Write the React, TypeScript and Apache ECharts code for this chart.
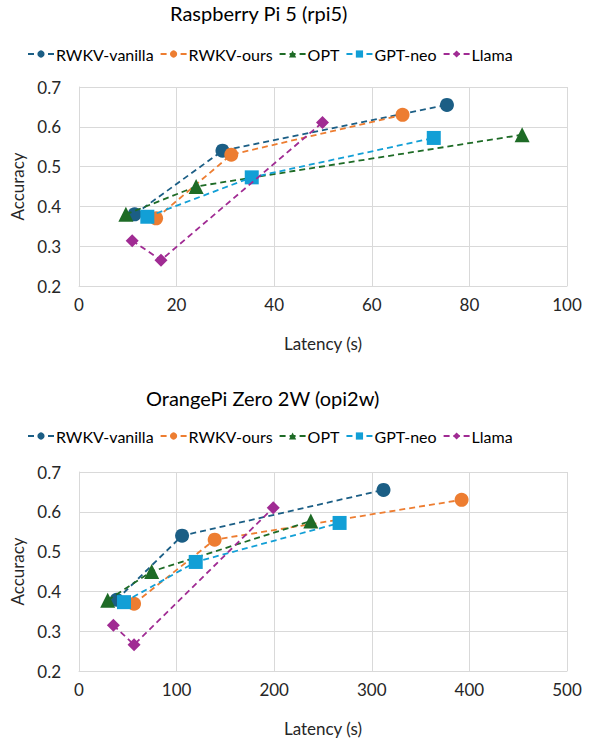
import React, { useEffect, useRef } from "react";
import * as echarts from "echarts";

const seriesNames = ["RWKV-vanilla", "RWKV-ours", "OPT", "GPT-neo", "Llama"];
const seriesColors = ["#1B5E85", "#ED7D31", "#1E6B26", "#129FD6", "#A02B93"];
const seriesSymbols = ["circle", "circle", "triangle", "rect", "diamond"];
const symbolSizes = [14, 14, 15, 14, 13];

// Raspberry Pi 5 (rpi5): [latency s, accuracy]
const rpiVanilla = [[11.4, 0.38], [29.4, 0.54], [75.4, 0.655]];
const rpiOurs = [[15.8, 0.37], [31.2, 0.53], [66.3, 0.63]];
const rpiOpt = [[9.6, 0.38], [24.0, 0.45], [90.8, 0.58]];
const rpiGptNeo = [[14.0, 0.374], [35.4, 0.473], [72.7, 0.572]];
const rpiLlama = [[10.9, 0.314], [16.8, 0.265], [49.9, 0.611]];

// OrangePi Zero 2W (opi2w)
const opiVanilla = [[38.6, 0.379], [105.6, 0.54], [312, 0.655]];
const opiOurs = [[56.4, 0.369], [139, 0.53], [392, 0.63]];
const opiOpt = [[29.4, 0.378], [74.5, 0.45], [237.5, 0.577]];
const opiGptNeo = [[46.1, 0.373], [119.6, 0.474], [267, 0.572]];
const opiLlama = [[35.2, 0.315], [56.4, 0.266], [199, 0.61]];

const rpiData = [rpiVanilla, rpiOurs, rpiOpt, rpiGptNeo, rpiLlama];
const opiData = [opiVanilla, opiOurs, opiOpt, opiGptNeo, opiLlama];

const titles = ["Raspberry Pi 5 (rpi5)", "OrangePi Zero 2W (opi2w)"];
const xAxisName = "Latency (s)";
const yAxisName = "Accuracy";
const xMaxes = [100, 500];
const xIntervals = [20, 100];

const FONT = "Lato";

export default function App() {
  const ref = useRef<HTMLDivElement>(null);
  useEffect(() => {
    document.body.style.margin = "0";
    const chart = echarts.init(ref.current!, null, { renderer: "svg" });
    const gridTops = [87, 472];
    const mkSeries = (data: number[][][], gi: number) =>
      data.map((d, i) => ({
        name: seriesNames[i],
        type: "line",
        xAxisIndex: gi,
        yAxisIndex: gi,
        data: d,
        symbol: seriesSymbols[i],
        symbolSize: symbolSizes[i],
        showAllSymbol: true,
        z: 2 + i,
        itemStyle: { color: seriesColors[i], opacity: 1 },
        lineStyle: { color: seriesColors[i], width: 1.8, type: [6, 4] },
      }));
    const axisText = { color: "#262626", fontFamily: FONT, fontSize: 17 };
    chart.setOption({
      animation: false,
      textStyle: { fontFamily: FONT },
      title: [0, 1].map((i) => ({
        text: titles[i],
        left: i === 0 ? 170 : 146,
        top: i === 0 ? 3 : 388,
        padding: 0,
        textStyle: { fontFamily: FONT, fontSize: 20, fontWeight: "normal", color: "#000" },
      })),
      legend: [0, 1].map((i) => ({
        data: seriesNames,
        top: i === 0 ? 41 : 423,
        left: 22,
        itemWidth: 26,
        itemHeight: 9,
        itemGap: 6,
        textStyle: { fontFamily: FONT, fontSize: 16, color: "#000", padding: [0, 0, 0, -3] },
      })),
      grid: [0, 1].map((i) => ({
        left: 79,
        top: gridTops[i],
        width: 488,
        height: 199,
        containLabel: false,
      })),
      xAxis: [0, 1].map((i) => ({
        type: "value",
        gridIndex: i,
        min: 0,
        max: xMaxes[i],
        interval: xIntervals[i],
        name: xAxisName,
        nameLocation: "middle",
        nameGap: 49,
        nameTextStyle: { ...axisText, fontSize: 17 },
        axisLine: { show: true, lineStyle: { color: "#D9D9D9" } },
        axisTick: { show: false },
        axisLabel: { ...axisText, margin: 10 },
        splitLine: { show: true, lineStyle: { color: "#D9D9D9", width: 1 } },
      })),
      yAxis: [0, 1].map((i) => ({
        type: "value",
        gridIndex: i,
        min: 0.2,
        max: 0.7,
        interval: 0.1,
        name: yAxisName,
        nameLocation: "middle",
        nameGap: 52,
        nameTextStyle: { ...axisText, fontSize: 17 },
        axisLine: { show: true, lineStyle: { color: "#D9D9D9" } },
        axisTick: { show: false },
        axisLabel: { ...axisText, margin: 18, formatter: (v: number) => v.toFixed(1) },
        splitLine: { show: true, lineStyle: { color: "#D9D9D9", width: 1 } },
      })),
      series: [...mkSeries(rpiData, 0), ...mkSeries(opiData, 1)],
    });
    return () => chart.dispose();
  }, []);
  return <div ref={ref} style={{ width: 599, height: 740 }} />;
}
